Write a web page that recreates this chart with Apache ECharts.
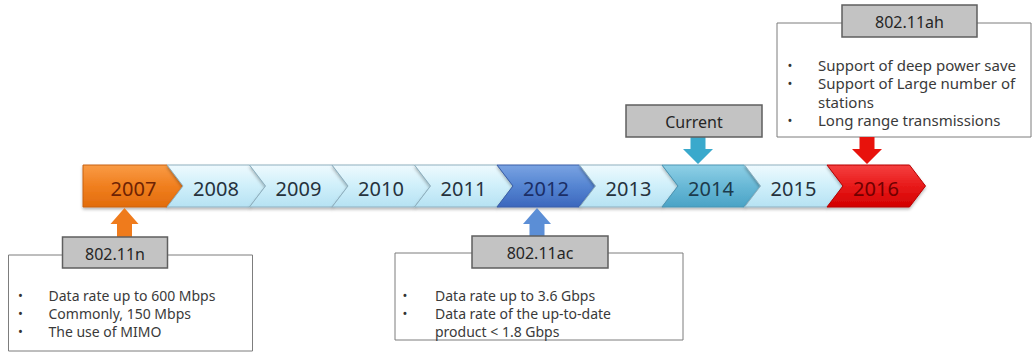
<!DOCTYPE html>
<html>
<head>
<meta charset="utf-8">
<script src="https://cdn.jsdelivr.net/npm/echarts@6/dist/echarts.min.js"></script>
<style>
  html, body { margin: 0; padding: 0; background: #ffffff; }
  #chart { width: 1032px; height: 352px; }
</style>
</head>
<body>
<div id="chart"></div>
<script>
// Timeline years, one chevron each
const years = ['2007', '2008', '2009', '2010', '2011', '2012', '2013', '2014', '2015', '2016'];

// Callouts attached to particular years
const calloutYears = ['2007', '2012', '2014', '2016'];
const calloutTitles = ['802.11n', '802.11ac', 'Current', '802.11ah'];

// Bullet notes; each bullet is a list of wrapped lines
const notes11n = [['Data rate up to 600 Mbps'], ['Commonly, 150 Mbps'], ['The use of MIMO']];
const notes11ac = [['Data rate up to 3.6 Gbps'], ['Data rate of the up-to-date', 'product < 1.8 Gbps']];
const notesCurrent = [];
const notes11ah = [['Support of deep power save'], ['Support of Large number of', 'stations'], ['Long range transmissions']];
const calloutNotes = [notes11n, notes11ac, notesCurrent, notes11ah];

const FONT = '"Noto Sans", "DejaVu Sans", sans-serif';

// Chevron look per year (plain years fall back to the light style)
const plainStyle = { stops: ['#eefafe', '#cfeffa', '#b6e2f3'], stroke: '#8fb0bf', text: '#26323d' };
const yearStyles = {
  '2007': { stops: ['#f99b45', '#f07f1f', '#e26c0c'], stroke: '#c8620f', text: '#6e2304' },
  '2012': { stops: ['#7aa3e2', '#5585d2', '#3c67bd'], stroke: '#3a5ea8', text: '#1b2e66' },
  '2014': { stops: ['#8fd0e6', '#68b8d6', '#4aa3c6'], stroke: '#4a95b3', text: '#1c3a4b' },
  '2016': { stops: ['#f54040', '#e81a1a', '#d20000'], stroke: '#b80000', text: '#700000' }
};

// Callout geometry, relative to the arrow anchor (x) and to the band edges (y)
const calloutLayout = [
  { dir: 'up',   color: '#ef7b1c', tag: [-62, 30, 105, 31], panel: [-116, 48, 244, 96],
    bulletX: -104, textX: -76, lineY: 88, lineStep: 18, fs: 14 },
  { dir: 'up',   color: '#5b8ed6', tag: [-65, 29, 136, 32], panel: [-142, 46, 288, 87],
    bulletX: -132, textX: -102, lineY: 88, lineStep: 18, fs: 14 },
  { dir: 'down', color: '#3aa9cc', tag: [-72, -60, 136, 32], panel: null,
    from: -28, dx: -4 },
  { dir: 'down', color: '#e8120c', tag: [-25, -160, 135, 32], panel: [-90, -142, 254, 114],
    bulletX: -77, textX: -49, lineY: -100, lineStep: 18.3, fs: 15, from: -28 }
];

function grad(stops) {
  return new echarts.graphic.LinearGradient(0, 0, 0, 1, [
    { offset: 0, color: stops[0] },
    { offset: 0.5, color: stops[1] },
    { offset: 1, color: stops[2] }
  ]);
}

function renderChevron(params, api) {
  const i = api.value(0);
  const base = api.coord([i, 0]);
  const cx = base[0];
  const bot = base[1];
  const top = api.coord([i, 1])[1];
  const mid = (top + bot) / 2;
  const bw = api.size([1, 0])[0];
  const tip = 16;
  const L = cx - 49;
  const R = L + bw;
  const pts = i === 0
    ? [[cx - 50.5, top], [R, top], [R + tip, mid], [R, bot], [cx - 50.5, bot]]
    : [[L, top], [R, top], [R + tip, mid], [R, bot], [L, bot], [L + tip, mid]];
  const st = yearStyles[years[i]] || plainStyle;
  return {
    type: 'group',
    children: [
      {
        type: 'polygon',
        shape: { points: pts },
        style: {
          fill: grad(st.stops), stroke: st.stroke, lineWidth: 1,
          shadowBlur: 3, shadowOffsetY: 2, shadowColor: 'rgba(0,0,0,0.28)'
        }
      },
      {
        type: 'text',
        style: {
          text: years[i], x: cx, y: mid + 2, align: 'center', verticalAlign: 'middle',
          fill: st.text, fontSize: 20, fontFamily: FONT
        }
      }
    ]
  };
}

function renderCallout(params, api) {
  const k = params.dataIndex;
  const i = api.value(0);
  const lay = calloutLayout[k];
  const base = api.coord([i, 0]);
  const ax = base[0] - 9 + (lay.dx || 0);
  const bot = base[1];
  const top = api.coord([i, 1])[1];
  const ref = lay.dir === 'up' ? bot : top;
  const children = [];

  if (lay.panel) {
    children.push({
      type: 'rect',
      shape: { x: ax + lay.panel[0], y: ref + lay.panel[1], width: lay.panel[2], height: lay.panel[3] },
      style: { fill: '#ffffff', stroke: '#7d7d7d', lineWidth: 1 }
    });
  }

  // Arrow between the band and the callout
  const sw = 15, hw = 28, hl = 16;
  let pts;
  if (lay.dir === 'up') {
    const y0 = bot + 1, yh = bot + 1 + hl, y1 = ref + lay.tag[1];
    pts = [[ax, y0], [ax + hw / 2, yh], [ax + sw / 2, yh], [ax + sw / 2, y1],
           [ax - sw / 2, y1], [ax - sw / 2, yh], [ax - hw / 2, yh]];
  } else {
    const y0 = top - 1, yh = top - 1 - hl + 1, y1 = ref + lay.from;
    pts = [[ax, y0], [ax + hw / 2 + 1, yh], [ax + sw / 2, yh], [ax + sw / 2, y1],
           [ax - sw / 2, y1], [ax - sw / 2, yh], [ax - hw / 2 - 1, yh]];
  }
  children.push({ type: 'polygon', shape: { points: pts }, style: { fill: lay.color } });

  // Title tag
  const tx = ax + lay.tag[0], ty = ref + lay.tag[1];
  children.push({
    type: 'rect',
    shape: { x: tx, y: ty, width: lay.tag[2], height: lay.tag[3] },
    style: { fill: '#c3c3c3', stroke: '#5f5f5f', lineWidth: 1.5 }
  });
  children.push({
    type: 'text',
    style: {
      text: calloutTitles[k], x: tx + lay.tag[2] / 2, y: ty + lay.tag[3] / 2 + 1,
      align: 'center', verticalAlign: 'middle', fill: '#262626', fontSize: 16, fontFamily: FONT
    }
  });

  // Bullet notes: one multi-line block for the markers, one for the wording
  const notes = calloutNotes[k];
  if (notes.length) {
    const bodyLines = [];
    const markLines = [];
    notes.forEach(function (bullet) {
      bullet.forEach(function (txt, j) {
        bodyLines.push(txt);
        markLines.push(j === 0 ? '•' : ' ');
      });
    });
    const blockTop = ref + lay.lineY - lay.lineStep / 2;
    children.push({
      type: 'text',
      style: { text: markLines.join('\n'), x: ax + lay.bulletX, y: blockTop, align: 'center',
               verticalAlign: 'top', fill: '#333333', fontSize: 13, lineHeight: lay.lineStep,
               fontFamily: FONT }
    });
    children.push({
      type: 'text',
      style: { text: bodyLines.join('\n'), x: ax + lay.textX, y: blockTop, align: 'left',
               verticalAlign: 'top', fill: '#3a3a3a', fontSize: lay.fs, lineHeight: lay.lineStep,
               fontFamily: FONT }
    });
  }

  return { type: 'group', children: children };
}

const chart = echarts.init(document.getElementById('chart'), null, { renderer: 'svg' });
chart.setOption({
  animation: false,
  backgroundColor: '#ffffff',
  grid: { left: 92.25, right: 114.75, top: 165, bottom: 145 },
  xAxis: { type: 'category', data: years, boundaryGap: true, show: false },
  yAxis: { type: 'value', min: 0, max: 1, show: false },
  series: [
    {
      type: 'custom',
      name: 'timeline',
      renderItem: renderChevron,
      data: years.map(function (y, i) { return [i, 0]; }),
      encode: { x: 0, y: 1 },
      z: 2
    },
    {
      type: 'custom',
      name: 'callouts',
      renderItem: renderCallout,
      data: calloutYears.map(function (y) { return [years.indexOf(y), 0]; }),
      encode: { x: 0, y: 1 },
      z: 3
    }
  ]
});
</script>
</body>
</html>
